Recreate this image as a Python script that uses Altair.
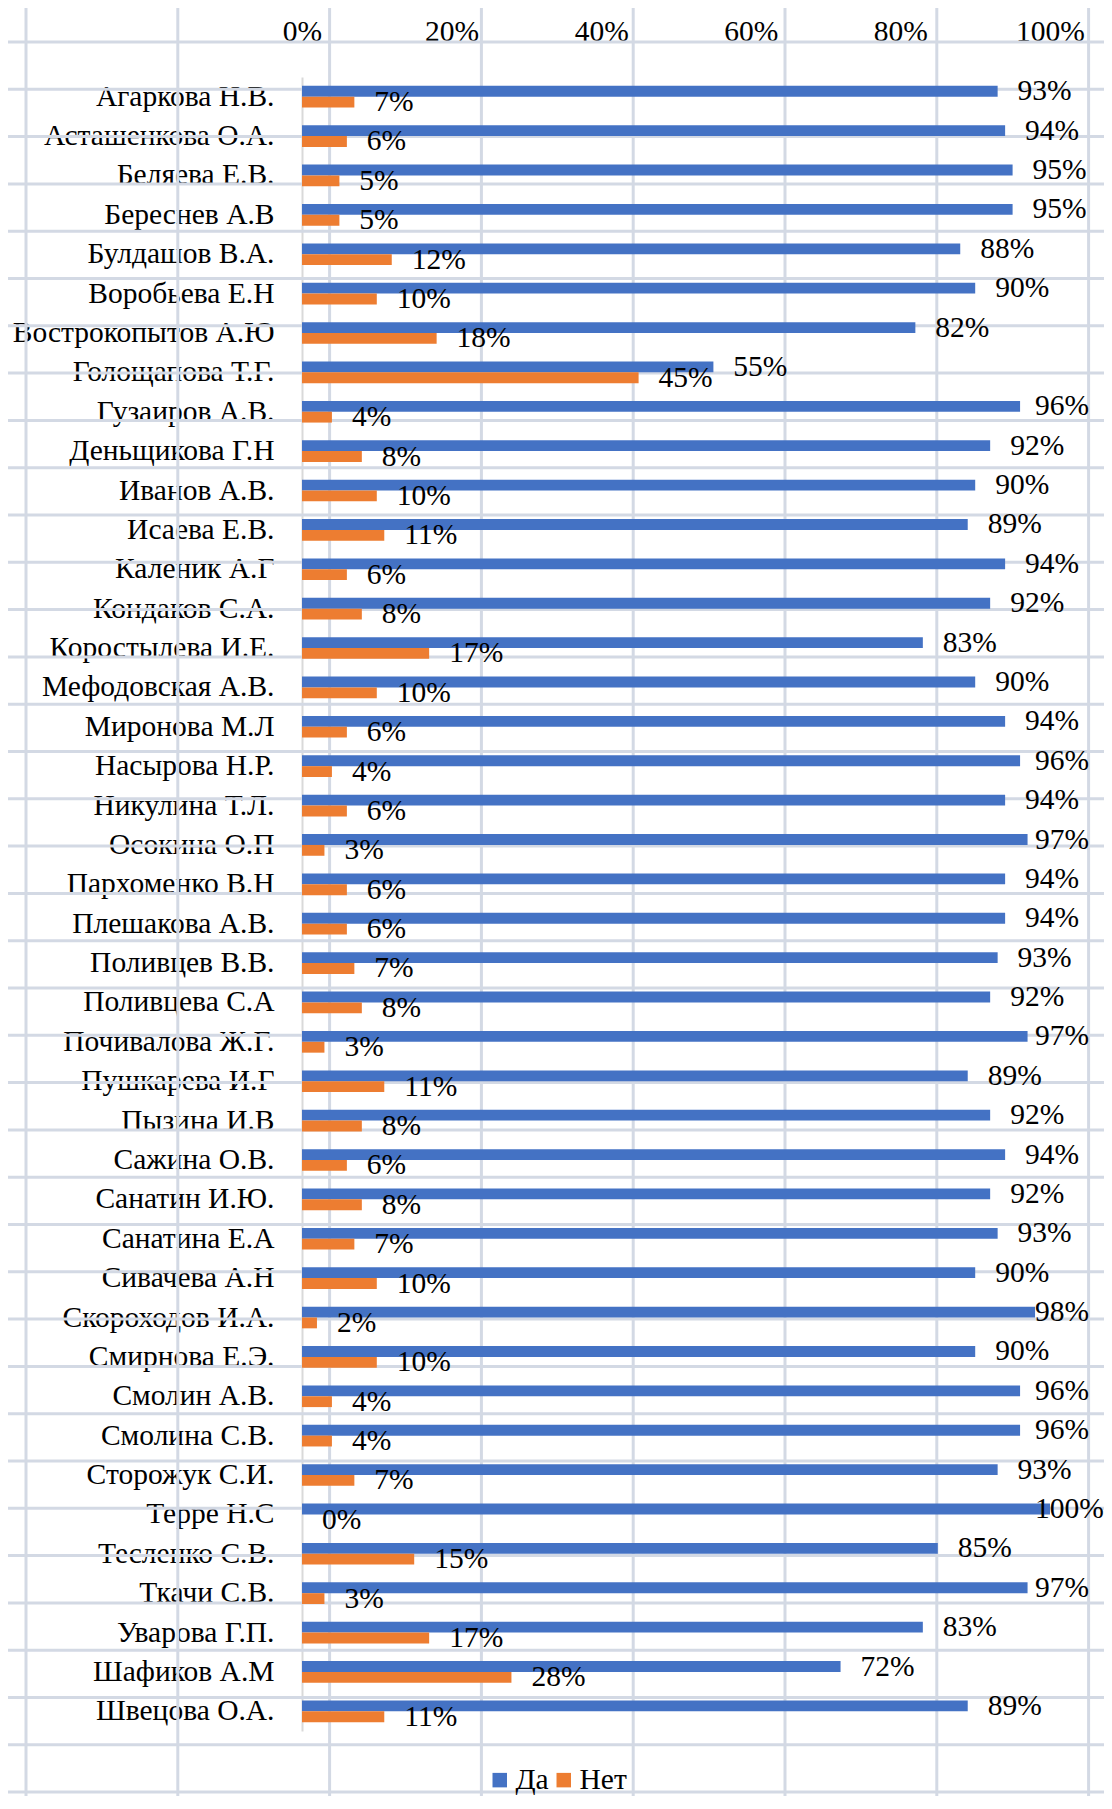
import altair as alt
import pandas as pd

# ---- data ----
names = [
    "Агаркова Н.В.", "Асташенкова О.А.", "Беляева Е.В.", "Береснев А.В",
    "Булдашов В.А.", "Воробьева Е.Н", "Вострокопытов А.Ю", "Голощапова Т.Г.",
    "Гузаиров А.В.", "Деньщикова Г.Н", "Иванов А.В.", "Исаева Е.В.",
    "Каленик А.Г", "Кондаков С.А.", "Коростылева И.Е.", "Мефодовская А.В.",
    "Миронова М.Л", "Насырова Н.Р.", "Никулина Т.Л.", "Осокина О.П",
    "Пархоменко В.Н", "Плешакова А.В.", "Поливцев В.В.", "Поливцева С.А",
    "Почивалова Ж.Г.", "Пушкарева И.Г", "Пызина И.В", "Сажина О.В.",
    "Санатин И.Ю.", "Санатина Е.А", "Сивачева А.Н", "Скороходов И.А.",
    "Смирнова Е.Э.", "Смолин А.В.", "Смолина С.В.", "Сторожук С.И.",
    "Терре Н.С", "Тесленко С.В.", "Ткачи С.В.", "Уварова Г.П.",
    "Шафиков А.М", "Швецова О.А.",
]
da = [93, 94, 95, 95, 88, 90, 82, 55, 96, 92, 90, 89, 94, 92, 83, 90, 94, 96, 94, 97,
      94, 94, 93, 92, 97, 89, 92, 94, 92, 93, 90, 98, 90, 96, 96, 93, 100, 85, 97, 83,
      72, 89]
net = [7, 6, 5, 5, 12, 10, 18, 45, 4, 8, 10, 11, 6, 8, 17, 10, 6, 4, 6, 3,
       6, 6, 7, 8, 3, 11, 8, 6, 8, 7, 10, 2, 10, 4, 4, 7, 0, 15, 3, 17,
       28, 11]
series = ["Да", "Нет"]
colors = ["#4472C4", "#ED7D31"]
tick_values = [0, 0.2, 0.4, 0.6, 0.8, 1.0]

rows = []
for n, a, b in zip(names, da, net):
    rows.append({"name": n, "series": series[0], "value": a / 100, "label": f"{a}%"})
    rows.append({"name": n, "series": series[1], "value": b / 100, "label": f"{b}%"})
df = pd.DataFrame(rows)

# ---- layout ----
W, H = 748, 1654
PAD = {"left": 294, "top": 69, "right": 54, "bottom": 65}
FONT = "Liberation Serif"
FS = 29.5
GRID_COLOR = "#D3D9E4"

# spreadsheet cell grid behind the chart (decoration, pixel layout)
col_step, row_step = 151.8, 47.3
grid_rows = []
for i in range(8):
    gx = -276 + col_step * i
    grid_rows.append({"x1": gx, "x2": gx, "y1": -PAD["top"], "y2": H + PAD["bottom"]})
for k in range(38):
    gy = -35 + row_step * k
    grid_rows.append({"x1": -PAD["left"], "x2": W + PAD["right"], "y1": gy, "y2": gy})
grid_df = pd.DataFrame(grid_rows)

grid = alt.Chart(grid_df).mark_rule(color=GRID_COLOR, strokeWidth=3, clip=False).encode(
    x=alt.X("x1:Q", scale=None, axis=None),
    x2="x2:Q",
    y=alt.Y("y1:Q", scale=None, axis=None),
    y2="y2:Q",
)

y_enc = alt.Y(
    "name:N", sort=None,
    scale=alt.Scale(paddingInner=0.45, paddingOuter=0.225),
    axis=alt.Axis(title=None, ticks=False, labelFont=FONT, labelFontSize=FS,
                  labelColor="#000000", labelPadding=28, labelLimit=0,
                  domainColor="#D9D9D9", domainWidth=2,
                  minExtent=PAD["left"], maxExtent=PAD["left"]),
)
yoff = alt.YOffset("series:N", sort=series)
x_enc = alt.X(
    "value:Q",
    scale=alt.Scale(domain=[0, 1], nice=False, zero=True),
    axis=alt.Axis(orient="top", format=".0%", values=tick_values, title=None,
                  grid=False, domain=False, ticks=False, tickSize=0,
                  labelFont=FONT, labelFontSize=FS, labelColor="#000000",
                  labelPadding=37, labelBaseline="alphabetic",
                  labelFlush=False, labelOverlap=False, labelBound=False,
                  minExtent=PAD["top"], maxExtent=PAD["top"]),
)
color = alt.Color(
    "series:N",
    scale=alt.Scale(domain=series, range=colors),
    legend=alt.Legend(orient="none", legendX=183, legendY=1688, direction="horizontal",
                      title=None, symbolType="square", symbolSize=210,
                      symbolStrokeWidth=0, labelFont=FONT, labelFontSize=FS,
                      labelColor="#000000", columnPadding=0, labelOffset=1,
                      padding=0),
)

bars = alt.Chart(df).mark_bar().encode(x=x_enc, y=y_enc, yOffset=yoff, color=color)

labels = alt.Chart(df).transform_calculate(
    lx="min(datum.value + 0.0267, 0.98)"
).mark_text(align="left", baseline="middle", font=FONT, fontSize=FS,
            color="#000000", clip=False).encode(
    x=alt.X("lx:Q"),
    y=alt.Y("name:N", sort=None),
    yOffset=alt.YOffset("series:N", sort=series),
    text="label:N",
)

main = alt.layer(bars, labels)

chart = alt.layer(grid, main).resolve_scale(x="independent", y="independent").properties(
    width=W, height=H,
    padding=PAD,
    autosize=alt.AutoSizeParams(type="none"),
).configure_view(stroke=None)

chart.save("out.html", embed_options={"renderer": "svg", "actions": False})
